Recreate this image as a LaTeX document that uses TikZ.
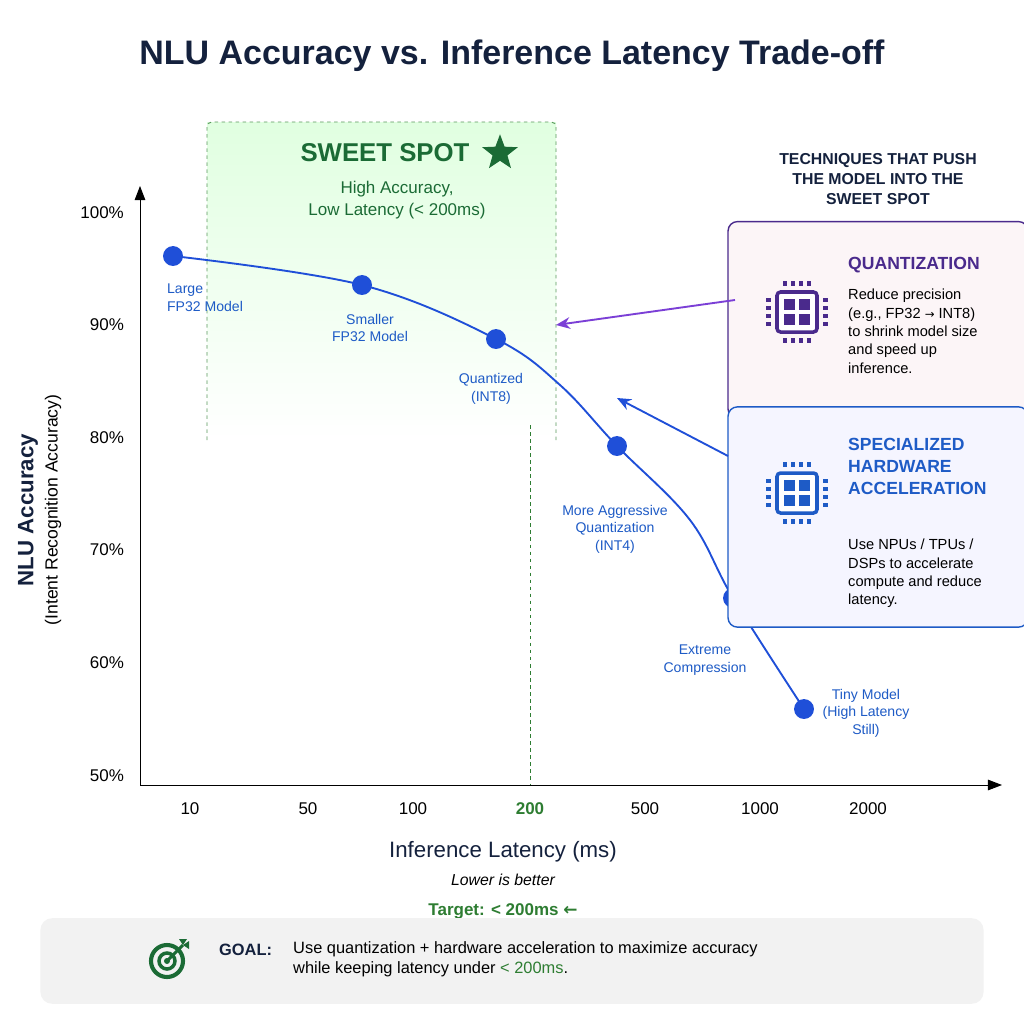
\documentclass[tikz,border=0pt]{standalone}
\usepackage{fontspec}
\setmainfont{Liberation Sans}
\newfontfamily\djv{DejaVu Sans}
\usetikzlibrary{shapes.geometric,arrows.meta,calc}
\definecolor{navy}{HTML}{14213D}
\definecolor{cblue}{HTML}{1F4FD8}
\definecolor{lblue}{HTML}{1E5BC6}
\definecolor{gr}{HTML}{2E7D32}
\definecolor{dgr}{HTML}{1B6B35}
\definecolor{purp}{HTML}{4A2A8C}
\definecolor{arrp}{HTML}{7B3FD6}
\newcommand{\fs}[1]{\fontsize{#1}{\fpeval{1.25*#1}}\selectfont}
\begin{document}
\begin{tikzpicture}[x=0.03cm,y=-0.03cm,
  tick/.style={font=\fs{14.5}, text=black},
  clab/.style={font=\fs{12}, text=lblue, align=center},
  pt/.style={circle, fill=cblue, inner sep=0, minimum size=17},
  btxt/.style={font=\fs{12.5}, align=left, text=black, anchor=north west, inner sep=0}]
\useasboundingbox (0,0) rectangle (1024,1024);
\fill[white] (0,0) rectangle (1024,1024);
% title
\node[font=\bfseries\fs{29}, text=navy] (title) at (512,56) {NLU Accuracy vs. Inference Latency Trade-off};
% sweet spot
\shade[top color=green!12, bottom color=white] (207,122) rectangle (556,440);
\draw[dashed, gr!80, thick, rounded corners=4] (207,440) -- (207,122) -- (556,122) -- (556,440);
\node[font=\bfseries\fs{22}, text=dgr] (ss) at (385,153) {SWEET SPOT};
\node[star, star points=5, star point ratio=2.4, fill=dgr, inner sep=0, minimum size=32] (star) at (500,153) {};
\node[font=\fs{14.5}, text=dgr, align=center] (ha) at (397,200) {High Accuracy,\\Low Latency (< 200ms)};
\draw[dashed, gr, thin] (530,425) -- (530,785);
% axes
\coordinate (o) at (140,785);
\coordinate (yt) at (140,186);
\coordinate (xt) at (1002,785);
\draw[thick, -{Triangle[length=12,width=9]}] (o) -- (yt);
\draw[thick, -{Triangle[length=12,width=9]}] (o) -- (xt);
\foreach \v/\y in {100/213,90/325,80/438,70/550,60/663,50/776}
  \node[tick, anchor=east] (y\v) at (128,\y) {\v\%};
\foreach \v/\x in {10/190,50/308,100/413,500/645,1000/760,2000/868}
  \node[tick] (x\v) at (\x,809) {\v};
\node[tick, text=gr, font=\bfseries\fs{14.5}] (x200) at (530,809) {200};
% axis titles
\node[rotate=90, font=\bfseries\fs{19}, text=navy] (yl) at (28,510) {NLU Accuracy};
\node[rotate=90, font=\fs{15}, text=black] (yl2) at (53,510) {(Intent Recognition Accuracy)};
\node[font=\fs{19}, text=navy] (xl) at (503,852) {Inference Latency (ms)};
\node[font=\itshape\fs{13.5}] (xl2) at (503,880) {Lower is better};
\node[font=\bfseries\fs{14.5}, text=gr] (tg) at (503,911) {Target: < 200ms {\djv\bfseries ←}};
% curve
\draw[cblue, line width=1.6] plot[smooth, tension=0.6] coordinates {(173,256) (362,285) (496,339) (560,385) (617,446) (690,520) (733,598) (804,709)};
\node[pt] (p1) at (173,256) {};
\node[pt] (p2) at (362,285) {};
\node[pt] (p3) at (496,339) {};
\node[pt] (p4) at (617,446) {};
\node[pt] (p5) at (733,598) {};
\node[pt] (p6) at (804,709) {};
\node[clab, align=left, anchor=north west] (l1) at (163,280) {Large\\FP32 Model};
\node[clab] (l2) at (370,328) {Smaller\\FP32 Model};
\node[clab] (l3) at (491,389) {Quantized\\(INT8)};
\node[clab] (l4) at (615,529) {More Aggressive\\Quantization\\(INT4)};
\node[clab] (l5) at (705,660) {Extreme\\Compression};
\node[clab] (l6) at (866,713) {Tiny Model\\(High Latency\\Still)};
% right panel
\node[font=\bfseries\fs{13.5}, text=navy, align=center] (tech) at (878,179) {TECHNIQUES THAT PUSH\\THE MODEL INTO THE\\SWEET SPOT};
\node[draw=purp, line width=1.2, rounded corners=8, fill=purple!4, minimum width=256, minimum height=168, inner sep=0] (b1) at (878,320) {};
\node[draw=lblue, line width=1.2, rounded corners=8, fill=blue!4, minimum width=256, minimum height=188, inner sep=0] (b2) at (878,517) {};
\node[font=\bfseries\fs{15}, text=purp, anchor=west, inner sep=0] (q) at (848,265) {QUANTIZATION};
\node[btxt] (qt) at (848,289) {Reduce precision\\(e.g., FP32 {\djv\fs{10}→} INT8)\\to shrink model size\\and speed up\\inference.};
\node[font=\bfseries\fs{15}, text=lblue, align=left, anchor=north west, inner sep=0] (h) at (848,438) {SPECIALIZED\\HARDWARE\\ACCELERATION};
\node[btxt] (ht) at (848,539) {Use NPUs / TPUs /\\DSPs to accelerate\\compute and reduce\\latency.};
% chips
\foreach \cx/\cy/\c in {797/312/purp, 797/493/lblue}{
  \begin{scope}[shift={(\cx,\cy)}]
  \draw[\c, line width=3, rounded corners=3, fill=white] (-20,-20) rectangle (20,20);
  \fill[\c] (-13,-13) rectangle (-2,-2); \fill[\c] (2,-13) rectangle (13,-2);
  \fill[\c] (-13,2) rectangle (-2,13); \fill[\c] (2,2) rectangle (13,13);
  \foreach \k in {-12,-4,4,12}{
    \fill[\c] (\k-2,-31) rectangle (\k+2,-26); \fill[\c] (\k-2,26) rectangle (\k+2,31);
    \fill[\c] (-31,\k-2) rectangle (-26,\k+2); \fill[\c] (26,\k-2) rectangle (31,\k+2);}
  \end{scope}}
% arrows
\coordinate (a1s) at (735,300); \coordinate (a1e) at (556,325);
\coordinate (a2s) at (728,456); \coordinate (a2e) at (617,398);
\draw[arrp, line width=1.6, -{Stealth[length=12,width=10]}] (a1s) -- (a1e);
\draw[cblue, line width=1.6, -{Stealth[length=12,width=10]}] (a2s) -- (a2e);
% goal box
\node[fill=gray!10, rounded corners=10, minimum width=805, minimum height=73, inner sep=0] (gb) at (512,961) {};
\begin{scope}[shift={(167,961)}]
\draw[dgr, line width=3.5] (0,0) circle (16);
\draw[dgr, line width=3] (0,0) circle (8);
\fill[dgr] (0,0) circle (3);
\draw[dgr, line width=2.5] (0,0) -- (16,-16);
\fill[dgr] (12,-22) -- (20,-22) -- (16,-16) -- cycle;
\fill[dgr] (22,-12) -- (22,-20) -- (16,-16) -- cycle;
\end{scope}
\node[font=\bfseries\fs{14}, anchor=west, text=navy] (gl) at (215,950) {GOAL:};
\node[font=\fs{14}, anchor=north west, align=left, inner sep=0] (gt) at (293,941) {Use quantization + hardware acceleration to maximize accuracy\\while keeping latency under \textcolor{gr}{< 200ms}.};
\end{tikzpicture}
\end{document}
